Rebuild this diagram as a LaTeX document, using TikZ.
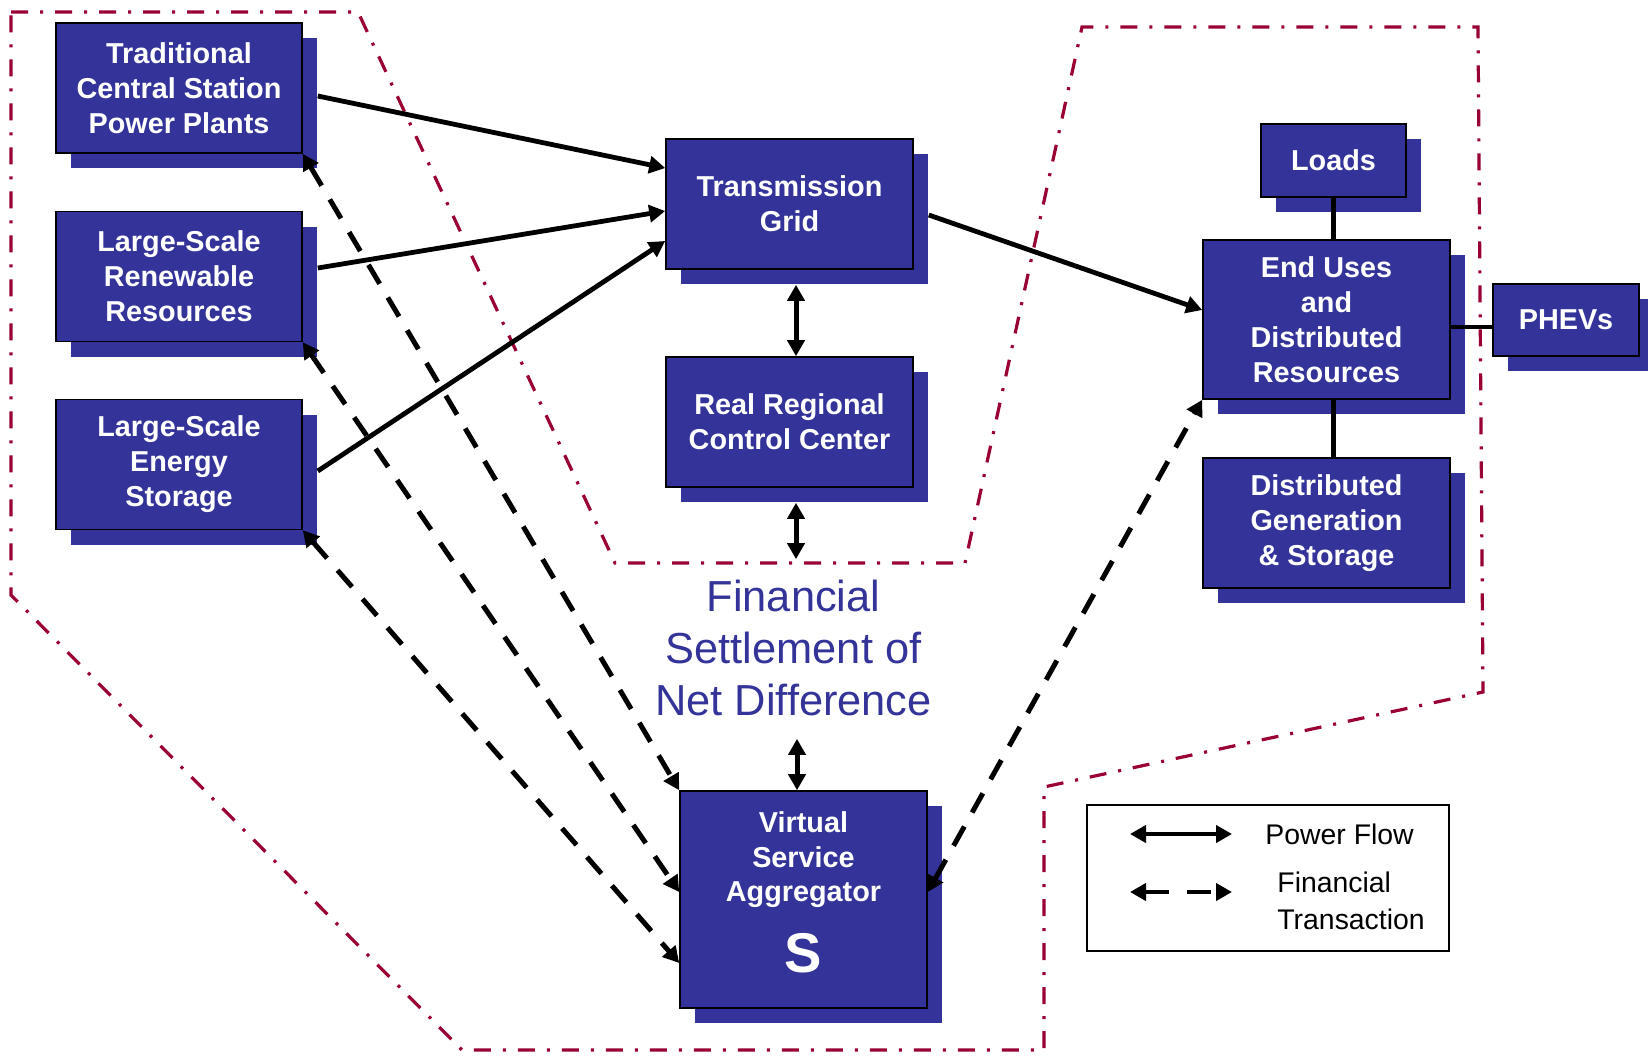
\documentclass[tikz,border=0pt]{standalone}
\usepackage{fontspec}
\setmainfont{Liberation Sans}
\usepackage{xcolor}
\usepackage{tikz}
\usetikzlibrary{positioning}
\usetikzlibrary{arrows.meta}
\usetikzlibrary{shadows}
\usetikzlibrary{calc}

\definecolor{boxblue}{RGB}{51,51,153}
\definecolor{zoneline}{RGB}{153,0,51}

\tikzset{
	block/.style={draw=black, line width=0.8pt, fill=boxblue, text=white,
		font=\bfseries\fontsize{14.4}{17.5}\selectfont, align=center, inner sep=0pt,
		minimum width=123pt, minimum height=65pt,
		general shadow={shadow xshift=7.5pt, shadow yshift=-7.5pt, fill=boxblue}},
	blocktext/.style={text=white, font=\bfseries\fontsize{14.4}{17.3}\selectfont, align=center, inner sep=0pt},
	power/.style={line width=2.4pt, -{Triangle[length=8pt, width=8.5pt]}},
	powerboth/.style={line width=2.5pt, {Triangle[length=8pt, width=8.5pt]}-{Triangle[length=8pt, width=8.5pt]}},
	money/.style={line width=2.5pt, dash pattern=on 11pt off 8pt,
		{Triangle[length=8pt, width=8.5pt]}-{Triangle[length=8pt, width=8.5pt]}},
	link/.style={line width=2.4pt},
	zone/.style={draw=zoneline, line width=1.6pt, dash pattern=on 8.5pt off 6pt on 1.5pt off 6pt},
	legendtext/.style={font=\fontsize{14.2}{18.5}\selectfont, align=left, inner sep=0pt}
}

\begin{document}
\begin{tikzpicture}[x=0.5pt, y=-0.5pt]
		\useasboundingbox (0,0) rectangle (1648,1055);

		% Dash-dot boundary of the aggregated area
		\draw[zone] (11,12) -- (358,12) -- (615,563) -- (965,563) -- (1082,27) -- (1478,27)
			-- (1483,692) -- (1044,787) -- (1044,1050) -- (462,1050) -- (11,595) -- cycle;

		% Large-scale resources on the left
		\foreach \name/\ypos/\txt in {trad/88/{Traditional\\Central Station\\Power Plants},
				renew/276.5/{Large-Scale\\Renewable\\Resources},
				store/464.5/{Large-Scale\\Energy\\Storage}} {
				\node[block] (\name) at (179,\ypos) {\txt};
			}

		% Grid and control center
		\node[block, minimum width=123.5pt] (tg) at (789.5,204) {Transmission\\Grid};
		\node[block, minimum width=123.5pt] (rrc) at (789.5,422) {Real Regional\\Control Center};

		% Customer side
		\node[block, minimum width=72.5pt, minimum height=36.5pt] (loads) at (1333.5,160.5) {Loads};
		\node[block, minimum width=123.5pt, minimum height=79.5pt] (eu) at (1326.5,319.5) {End Uses\\and\\Distributed\\Resources};
		\node[block, minimum width=123.5pt] (dg) at (1326.5,523) {Distributed\\Generation\\\& Storage};
		\node[block, minimum width=73pt, minimum height=36pt] (phev) at (1566,320) {PHEVs};

		% Aggregator
		\node[block, minimum width=123.5pt, minimum height=108.5pt] (vsa) at (803.5,899.5) {};
		\node[blocktext] (vsaText) at (803.5,860) {Virtual\\Service\\Aggregator};
		\node[text=white, font=\bfseries\fontsize{28}{28}\selectfont, inner sep=0pt] (vsaS) at (803.5,953) {S};

		\node[text=boxblue, font=\fontsize{21.7}{26}\selectfont, align=center, inner sep=0pt] (fin) at (793.5,647.5)
			{Financial\\Settlement of\\Net Difference};

		% Power flow
		\draw[power] ([shift={(15,8)}]trad.east) -- ([shift={(0,-36)}]tg.west);
		\draw[power] ([shift={(15,-8.5)}]renew.east) -- ([shift={(0,7)}]tg.west);
		\draw[power] ([shift={(15,6.5)}]store.east) -- ([shift={(0,37)}]tg.west);
		\draw[power] ([shift={(15,11)}]tg.east) -- ([shift={(0,-9.5)}]eu.west);
		\draw[powerboth] ([shift={(6.5,15)}]tg.south) -- ([shift={(6.5,0)}]rrc.north);
		\draw[powerboth] ([shift={(6.5,15)}]rrc.south) -- ([shift={(2.5,-20)}]fin.north);
		\draw[powerboth] ([shift={(3.5,23)}]fin.south) -- ([shift={(-6.5,0)}]vsa.north);
		\draw[link] (loads.south) -- (loads.south |- eu.north);
		\draw[link] (loads.south |- eu.south) -- (loads.south |- dg.north);
		\draw[link] ([shift={(0,7.5)}]eu.east) -- ([shift={(0,7.5)}]eu.east -| phev.west);

		% Financial transactions
		\draw[money] (trad.south east) -- (vsa.north west);
		\draw[money] (renew.south east) -- ([shift={(0,-7.5)}]vsa.west);
		\draw[money] (store.south east) -- ([shift={(0,63.5)}]vsa.west);
		\draw[money] ([shift={(0,-7.5)}]vsa.east) -- (eu.south west);

		% Legend
		\node[draw=black, line width=0.8pt, minimum width=181pt, minimum height=73pt, inner sep=0pt] (legend) at (1268,878) {};
		\coordinate (pfL) at (1130,834);
		\coordinate (pfR) at (1232,834);
		\coordinate (ftL) at (1130,892);
		\coordinate (ftR) at (1232,892);
		\draw[powerboth, line width=2.3pt] (pfL) -- (pfR);
		\draw[money, line width=2.3pt, dash pattern=on 12pt off 9pt] (ftL) -- (ftR);
		\node[legendtext, anchor=west] (pfText) at (1265,834) {Power Flow};
		\node[legendtext, anchor=west] (ftText) at (1277,901) {Financial\\Transaction};
	\end{tikzpicture}
\end{document}
